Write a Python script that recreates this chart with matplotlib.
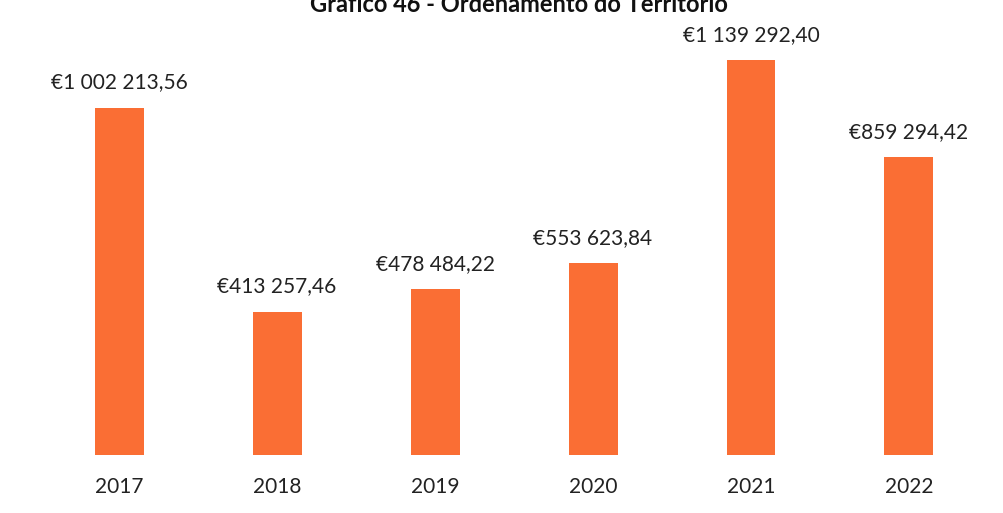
import numpy as np
import matplotlib.pyplot as plt

anos = ['2017', '2018', '2019', '2020', '2021', '2022']
valores = [1002213.56, 413257.46, 478484.22, 553623.84, 1139292.40, 859294.42]
titulo = 'Gráfico 46 - Ordenamento do Território'

cor = '#FA6E34'
fonte = ['Lato', 'DejaVu Sans']


def formatar(v):
    inteiro, dec = f'{v:,.2f}'.split('.')
    return '€' + inteiro.replace(',', ' ') + ',' + dec


fig = plt.figure(figsize=(10.04, 5.13), dpi=100)
ax = fig.add_axes([0.04, 0.113, 0.944, 0.848])

x = np.arange(len(anos))
barras = ax.bar(x, valores, width=0.31, color=cor)

for b, v in zip(barras, valores):
    ax.annotate(formatar(v), (b.get_x() + b.get_width() / 2, v),
                xytext=(0, 11), textcoords='offset points', ha='center', va='bottom',
                fontsize=15, family=fonte, color='#222222')

ax.set_xlim(-0.5, len(anos) - 0.5)
ax.set_ylim(0, 1255000)
ax.set_xticks(x)
ax.set_xticklabels(anos, fontsize=15, family=fonte, color='#222222')
ax.tick_params(axis='x', length=0, pad=16)
ax.set_yticks([])
for s in ax.spines.values():
    s.set_visible(False)

fig.text(0.517, 0.977, titulo, ha='center', va='baseline', fontsize=17,
         fontweight='bold', family=fonte, color='#111111')

fig.savefig('out.png', dpi=100)
